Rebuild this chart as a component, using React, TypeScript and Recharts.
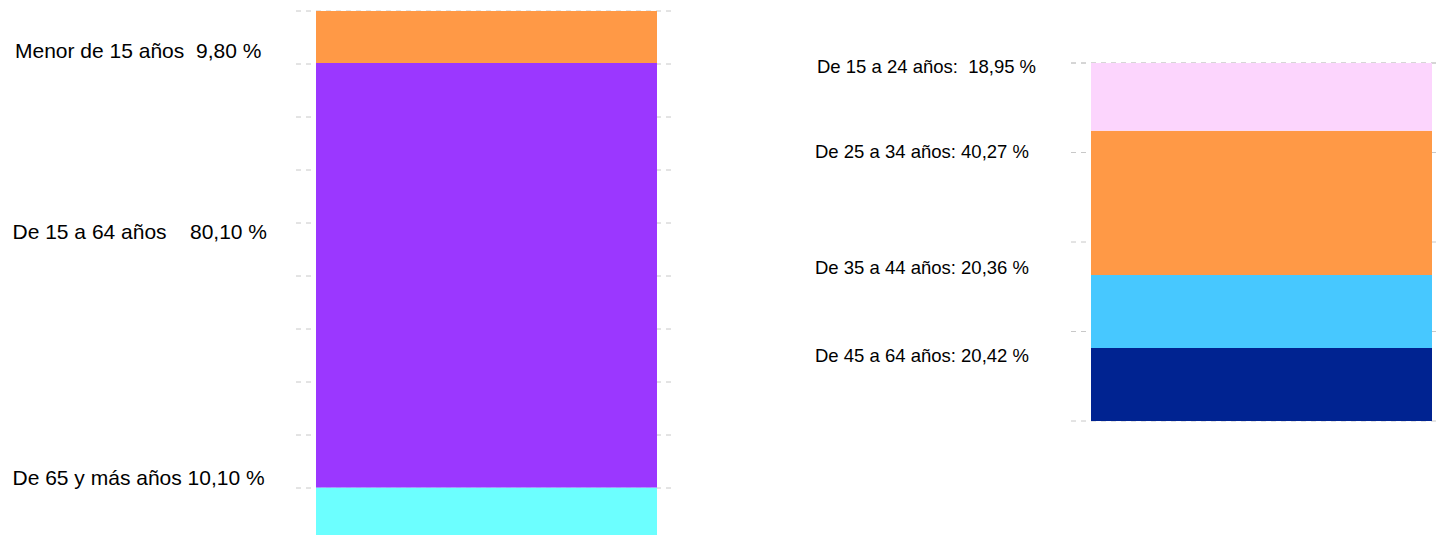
import React from 'react'
import { BarChart, Bar, XAxis, YAxis, CartesianGrid } from 'recharts'

// left chart: population by broad age group (%)
const leftGroups = ['Menor de 15 años', 'De 15 a 64 años', 'De 65 y más años']
const leftValues = [9.8, 80.1, 10.1]
const leftSeps = ['  ', '    ', ' ']
const leftTicks = [0, 10, 20, 30, 40, 50, 60, 70, 80, 90, 100]

// right chart: working-age population split (%)
const rightGroups = ['De 15 a 24 años', 'De 25 a 34 años', 'De 35 a 44 años', 'De 45 a 64 años']
const rightValues = [18.95, 40.27, 20.36, 20.42]
const rightSeps = [':  ', ': ', ': ', ': ']
const rightTicks = [0, 25, 50, 75, 100]

const leftColors = ['#FF9946', '#9B37FF', '#6CFFFF']
const rightColors = ['#FCD5FD', '#FF9946', '#47C8FF', '#002391']

// label placement relative to each segment (x from bar left, baseline from segment top)
const leftLabelDx = [-301, -303.5, -303.5]
const leftLabelDy = [47.3, 176.3, -2.7]
const rightLabelDx = [-274, -276, -276, -276]
const rightLabelDy = [10.3, 27.3, -0.7, 14.3]

const fmt = (v: number) => `${v.toFixed(2).replace('.', ',')} %`

const buildRow = (values: number[]) => {
  const row: Record<string, number | string> = { name: 'total' }
  values.forEach((v, i) => { row[`g${i}`] = v })
  return [row]
}

const makeLabel = (text: string, dx: number, dy: number, fontSize: number) => (props: any) => {
  const x = Number(props.x)
  const y = Number(props.y)
  return (
    <text
      x={x + dx}
      y={y + dy}
      fontSize={fontSize}
      fill="#000"
      fontFamily="'Liberation Sans', Arial, sans-serif"
      style={{ whiteSpace: 'pre' }}
    >
      {text}
    </text>
  )
}

const gridProps = { stroke: '#c8c8c8', strokeDasharray: '5 5', vertical: false }

const StackChart = ({
  groups, values, seps, colors, ticks, dxs, dys, fontSize, width, height, margin,
}: any) => {
  const data = buildRow(values)
  const order = groups.map((_: string, i: number) => i).reverse()
  return (
    <BarChart width={width} height={height} data={data} margin={margin}>
      <CartesianGrid {...gridProps} />
      <XAxis dataKey="name" hide />
      <YAxis hide domain={[0, 100]} ticks={ticks} />
      {order.map((i: number) => (
        <Bar
          key={i}
          dataKey={`g${i}`}
          stackId="a"
          fill={colors[i]}
          barSize={341}
          isAnimationActive={false}
          label={makeLabel(`${groups[i]}${seps[i]}${fmt(values[i])}`, dxs[i], dys[i], fontSize)}
        />
      ))}
    </BarChart>
  )
}

export default function App() {
  return (
    <div style={{ position: 'absolute', left: 0, top: 0, width: 1439, height: 535, overflow: 'hidden', background: '#fff' }}>
      <div style={{ position: 'absolute', left: 0, top: 0 }}>
        <StackChart
          groups={leftGroups}
          values={leftValues}
          seps={leftSeps}
          colors={leftColors}
          ticks={leftTicks}
          dxs={leftLabelDx}
          dys={leftLabelDy}
          fontSize={21}
          width={700}
          height={560}
          margin={{ top: 11, right: 24, bottom: 19, left: 296 }}
        />
      </div>
      <div style={{ position: 'absolute', left: 760, top: 0 }}>
        <StackChart
          groups={rightGroups}
          values={rightValues}
          seps={rightSeps}
          colors={rightColors}
          ticks={rightTicks}
          dxs={rightLabelDx}
          dys={rightLabelDy}
          fontSize={18.5}
          width={700}
          height={440}
          margin={{ top: 63, right: 8, bottom: 19, left: 311 }}
        />
      </div>
    </div>
  )
}
